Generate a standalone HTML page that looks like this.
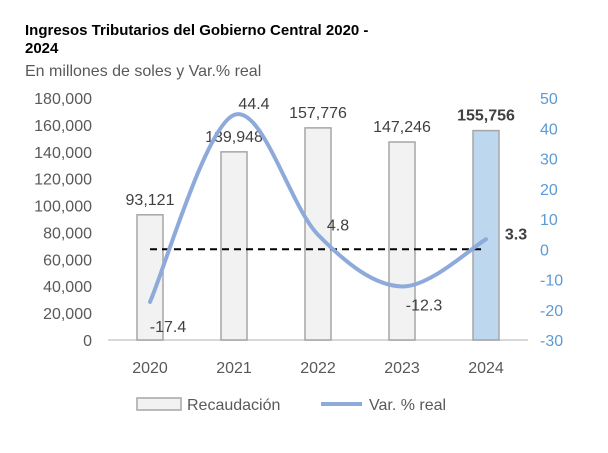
<!DOCTYPE html>
<html><head><meta charset="utf-8"><style>
body{margin:0;background:#fff;width:608px;height:448px;overflow:hidden;font-family:"Liberation Sans",Arial,sans-serif}
</style></head><body>
<svg width="608" height="448">
<text x="25" y="35" font-size="15" font-weight="bold" fill="#000">Ingresos Tributarios del Gobierno Central 2020 -</text>
<text x="25" y="53" font-size="15" font-weight="bold" fill="#000">2024</text>
<text x="25" y="76" font-size="16" fill="#595959">En millones  de soles y Var.% real</text>
<g id="g"></g>
</svg>
<script>
const categories=["2020","2021","2022","2023","2024"];
const recaudacion=[93121,139948,157776,147246,155756];
const recLabels=["93,121","139,948","157,776","147,246","155,756"];
const varReal=[-17.4,44.4,4.8,-12.3,3.3];
const leftTicks=[0,20000,40000,60000,80000,100000,120000,140000,160000,180000];
const rightTicks=[-30,-20,-10,0,10,20,30,40,50];
const NS="http://www.w3.org/2000/svg",g=document.getElementById('g');
const plotTop=98,plotBot=340;
const yL=v=>plotBot-(v/180000)*(plotBot-plotTop);
const yR=v=>plotBot-((v+30)/80)*(plotBot-plotTop);
const xC=i=>150+i*84;
function mk(t,a,txt){const e=document.createElementNS(NS,t);for(const k in a)e.setAttribute(k,a[k]);if(txt!=null)e.textContent=txt;g.appendChild(e);return e;}
leftTicks.forEach(v=>{const e=mk('text',{x:92,y:yL(v)+6,'font-size':16,fill:'#595959','text-anchor':'end'},v.toLocaleString('en-US'));

});
rightTicks.forEach(v=>{const e=mk('text',{x:540,y:yR(v)+6,'font-size':16,fill:'#5b9bd5'},String(v));

});
const ax=mk('line',{x1:108,y1:plotBot,x2:528,y2:plotBot,stroke:'#d9d9d9','stroke-width':2});


recaudacion.forEach((v,i)=>{const last=i===categories.length-1;
const b=mk('rect',{x:xC(i)-13,y:yL(v),width:26,height:plotBot-yL(v),fill:last?'#bdd7ee':'#f2f2f2',stroke:'#a6a6a6','stroke-width':1.5});


const l=mk('text',{x:xC(i),y:yL(v)-10,'font-size':16,fill:'#404040','font-weight':last?'bold':'normal','text-anchor':'middle'},recLabels[i]);


const c=mk('text',{x:xC(i),y:plotBot+33,'font-size':16,fill:'#595959','text-anchor':'middle'},categories[i]);

});
const z=mk('line',{x1:xC(0),y1:yR(0),x2:xC(4),y2:yR(0),stroke:'#000','stroke-width':2,'stroke-dasharray':'7,5'});


const P=varReal.map((v,i)=>[xC(i),yR(v)]);
let d='M'+P[0][0]+','+P[0][1];
for(let i=0;i<P.length-1;i++){const p0=P[Math.max(i-1,0)],p1=P[i],p2=P[i+1],p3=P[Math.min(i+2,P.length-1)];
const t=0.5/3;d+=` C${p1[0]+(p2[0]-p0[0])*t},${p1[1]+(p2[1]-p0[1])*t} ${p2[0]-(p3[0]-p1[0])*t},${p2[1]-(p3[1]-p1[1])*t} ${p2[0]},${p2[1]}`;}
const ln=mk('path',{d:d,fill:'none',stroke:'#8eaadb','stroke-width':4,'stroke-linecap':'round'});


const off=[[18,30],[20,-6],[20,-4],[22,24],[30,0]];
varReal.forEach((v,i)=>{const last=i===varReal.length-1;
const e=mk('text',{x:P[i][0]+off[i][0],y:P[i][1]+off[i][1],'font-size':16,fill:'#404040','font-weight':last?'bold':'normal','text-anchor':'middle'},v.toFixed(1));

});
const lb=mk('rect',{x:137,y:398,width:44,height:12,fill:'#f2f2f2',stroke:'#a6a6a6','stroke-width':1.5});


const lt=mk('text',{x:187,y:410,'font-size':16,fill:'#595959'},'Recaudación');


const ll=mk('line',{x1:321,y1:404,x2:362,y2:404,stroke:'#8eaadb','stroke-width':4});


const lt2=mk('text',{x:369,y:410,'font-size':16,fill:'#595959'},'Var. % real');


</script>
</body></html>
